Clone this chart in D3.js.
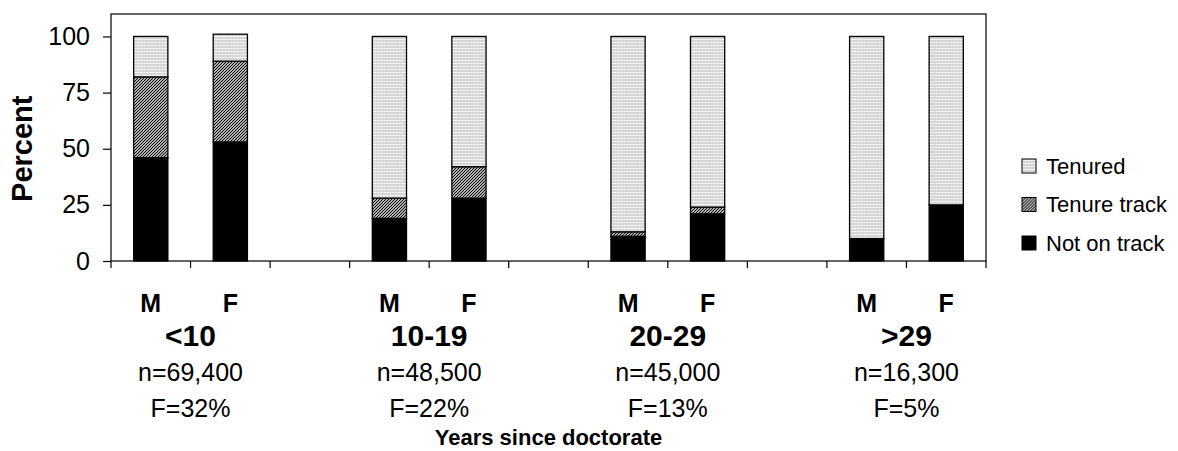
<!DOCTYPE html>
<meta charset="utf-8">
<style>
  body { margin: 0; background: #fff; }
  text { font-family: "Liberation Sans", Arial, sans-serif; fill: #000; }
</style>
<body>
<script src="https://cdn.jsdelivr.net/npm/d3@7"></script>
<script>

var groups = ["<10", "10-19", "20-29", ">29"];
var nLabels = ["n=69,400", "n=48,500", "n=45,000", "n=16,300"];
var fLabels = ["F=32%", "F=22%", "F=13%", "F=5%"];
var sexes = ["M", "F"];
var series = ["Not on track", "Tenure track", "Tenured"];
// one value per bar: <10 M, <10 F, 10-19 M, 10-19 F, ...
var notOnTrack = [46, 53, 19, 28, 11, 21, 10, 25];
var tenureTrack = [36, 36, 9, 14, 2, 3, 0, 0];
var tenured = [18, 12, 72, 58, 87, 76, 90, 75];
var yTicks = [0, 25, 50, 75, 100];

var width = 1178, height = 451,
    plotL = 111, plotR = 986, plotT = 14, plotB = 261;

var svg = d3.select("body").append("svg")
    .attr("width", width)
    .attr("height", height);

// fill patterns
var defs = svg.append("defs");
var dots = defs.append("pattern")
    .attr("id", "pTenured")
    .attr("patternUnits", "userSpaceOnUse")
    .attr("width", 3).attr("height", 3);
dots.append("rect").attr("width", 3).attr("height", 3).attr("fill", "#d6d6d6");
dots.append("rect").attr("width", 3).attr("height", 1).attr("fill", "#ececec");
dots.append("rect").attr("width", 1).attr("height", 1).attr("fill", "#fff");

var hatch = defs.append("pattern")
    .attr("id", "pTrack")
    .attr("patternUnits", "userSpaceOnUse")
    .attr("width", 3).attr("height", 3);
hatch.append("rect").attr("width", 3).attr("height", 3).attr("fill", "#fff");
hatch.append("path")
    .attr("d", "M0,3L3,0M-1,1L1,-1M2,4L4,2")
    .attr("stroke", "#000")
    .attr("stroke-width", 1.2);

var fills = {"Not on track": "#000", "Tenure track": "url(#pTrack)", "Tenured": "url(#pTenured)"};

// slots: M, F, gap, M, F, gap ...
var slots = [];
groups.forEach(function(g, i) {
  slots.push(i + "M", i + "F");
  if (i < groups.length - 1) slots.push("gap" + i);
});

var x = d3.scaleBand()
    .domain(slots)
    .range([plotL, plotR])
    .paddingInner(0.57)
    .paddingOuter(0.285);

var y = d3.scaleLinear()
    .domain([0, 110])
    .range([plotB, plotT]);

var bars = [];
groups.forEach(function(g, i) {
  sexes.forEach(function(s, j) {
    var k = i * 2 + j;
    bars.push({slot: i + s, "Not on track": notOnTrack[k], "Tenure track": tenureTrack[k], "Tenured": tenured[k]});
  });
});

var stacked = d3.stack().keys(series)(bars);

// frame
svg.append("rect")
    .attr("x", plotL).attr("y", plotT)
    .attr("width", plotR - plotL).attr("height", plotB - plotT)
    .attr("fill", "none")
    .attr("stroke", "#000")
    .attr("stroke-width", 1.2);

var layer = svg.selectAll("g.layer")
    .data(stacked)
  .enter().append("g")
    .attr("class", "layer")
    .attr("fill", function(d) { return fills[d.key]; });

layer.selectAll("rect")
    .data(function(d) { return d.filter(function(p) { return p[1] - p[0] > 0; }); })
  .enter().append("rect")
    .attr("x", function(d) { return x(d.data.slot); })
    .attr("width", x.bandwidth())
    .attr("y", function(d) { return y(d[1]); })
    .attr("height", function(d) { return y(d[0]) - y(d[1]); })
    .attr("stroke", "#000")
    .attr("stroke-width", 1.3);

// y axis
var yAxis = svg.append("g")
    .attr("transform", "translate(" + plotL + ",0)")
    .call(d3.axisLeft(y).tickValues(yTicks).tickSize(8).tickPadding(13));
yAxis.select(".domain").remove();
yAxis.selectAll("line").attr("stroke", "#000").attr("stroke-width", 1.2);
yAxis.selectAll("text")
    .style("font-family", "Liberation Sans, Arial, sans-serif")
    .style("font-size", "25px");

// x ticks at slot boundaries
var bounds = slots.map(function(s) { return x(s) - x.step() * x.paddingInner() / 2; });
bounds.push(plotR);
svg.append("g").selectAll("line")
    .data(bounds)
  .enter().append("line")
    .attr("x1", function(d) { return d; }).attr("x2", function(d) { return d; })
    .attr("y1", plotB).attr("y2", plotB + 7)
    .attr("stroke", "#000").attr("stroke-width", 1.2);

// category labels
var cx = function(s) { return x(s) + x.bandwidth() / 2; };
var lab = svg.append("g").attr("text-anchor", "middle");
groups.forEach(function(g, i) {
  sexes.forEach(function(s) {
    lab.append("text").attr("x", cx(i + s)).attr("y", 303).attr("dy", "0.35em")
        .style("font-size", "25px").style("font-weight", "bold").text(s);
  });
  var mid = (cx(i + "M") + cx(i + "F")) / 2;
  lab.append("text").attr("x", mid).attr("y", 335).attr("dy", "0.35em")
      .style("font-size", "30px").style("font-weight", "bold").text(g);
  lab.append("text").attr("x", mid).attr("y", 372).attr("dy", "0.35em")
      .style("font-size", "25px").text(nLabels[i]);
  lab.append("text").attr("x", mid).attr("y", 408).attr("dy", "0.35em")
      .style("font-size", "25px").text(fLabels[i]);
});

lab.append("text").attr("x", (plotL + plotR) / 2).attr("y", 437).attr("dy", "0.35em")
    .style("font-size", "22px").style("font-weight", "bold").text("Years since doctorate");

svg.append("text")
    .attr("transform", "translate(22," + (y(50)) + ") rotate(-90)")
    .attr("text-anchor", "middle")
    .attr("dy", "0.35em")
    .style("font-size", "29px").style("font-weight", "bold")
    .text("Percent");

// legend
var legend = svg.append("g").selectAll("g")
    .data(series.slice().reverse())
  .enter().append("g")
    .attr("transform", function(d, i) { return "translate(1022," + (166 + i * 38.5) + ")"; });
legend.append("rect")
    .attr("x", 0).attr("y", -7).attr("width", 14).attr("height", 14)
    .attr("fill", function(d) { return fills[d]; })
    .attr("stroke", "#000").attr("stroke-width", 1);
legend.append("text")
    .attr("x", 24).attr("dy", "0.35em")
    .style("font-size", "22px")
    .text(function(d) { return d; });

</script>
</body>
